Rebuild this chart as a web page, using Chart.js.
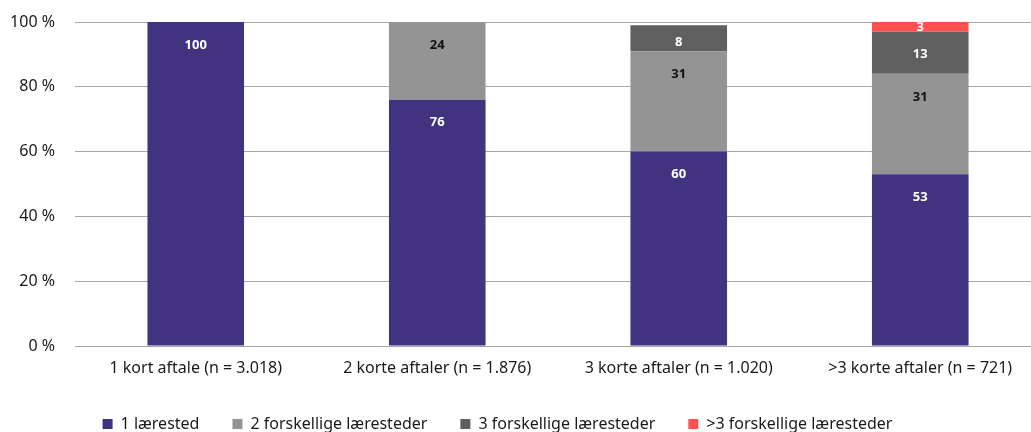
<!DOCTYPE html>
<html>
<head>
<meta charset="utf-8">
<script src="https://cdn.jsdelivr.net/npm/chart.js@4/dist/chart.umd.min.js"></script>
<style>
  html, body { margin: 0; padding: 0; background: #fff; overflow: hidden; }
  #wrap { position: relative; width: 1041px; height: 432px; }
</style>
</head>
<body>
<div id="wrap"><canvas id="c"></canvas></div>
<script>
const categories = ['1 kort aftale (n = 3.018)', '2 korte aftaler (n = 1.876)', '3 korte aftaler (n = 1.020)', '>3 korte aftaler (n = 721)'];
const seriesNames = ['1 lærested', '2 forskellige læresteder', '3 forskellige læresteder', '>3 forskellige læresteder'];
const oneInstitution = [100, 76, 60, 53];
const twoInstitutions = [null, 24, 31, 31];
const threeInstitutions = [null, null, 8, 13];
const moreInstitutions = [null, null, null, 3];
const yTicks = [0, 20, 40, 60, 80, 100];

const barColors = ['#41337F', '#949494', '#5F5F5F', '#FF5050'];
const labelColors = ['#ffffff', '#111111', '#ffffff', '#ffffff'];
const FONT = '"Noto Sans"';

const labelPlugin = {
  id: 'barLabels',
  afterDatasetsDraw(chart) {
    const ctx = chart.ctx;
    ctx.save();
    ctx.font = 'bold 13px ' + FONT;
    ctx.textAlign = 'center';
    ctx.textBaseline = 'middle';
    chart.data.datasets.forEach((ds, i) => {
      const meta = chart.getDatasetMeta(i);
      meta.data.forEach((bar, j) => {
        const v = ds.data[j];
        if (v == null) return;
        const p = bar.getProps(['x', 'y', 'base'], true);
        const top = Math.min(p.y, p.base), bottom = Math.max(p.y, p.base);
        const center = (top + bottom) / 2;
        const ly = Math.min(top + 23, Math.max(center, bottom - 9));
        ctx.fillStyle = labelColors[i];
        ctx.fillText(String(v), p.x, ly);
      });
    });
    ctx.restore();
  }
};

const LEGEND_H = 49;
const legendTweak = {
  id: 'legendTweak',
  afterInit(chart) {
    const lg = chart.legend;
    if (!lg) return;
    const origFit = lg.fit.bind(lg);
    lg.fit = function () { origFit(); this.height = LEGEND_H; };
  },
  afterLayout(chart) {
    const lg = chart.legend;
    if (lg) { lg.left -= 23; lg.right -= 23; }
  }
};

new Chart(document.getElementById('c'), {
  type: 'bar',
  data: {
    labels: categories,
    datasets: [
      { label: seriesNames[0], data: oneInstitution, backgroundColor: barColors[0] },
      { label: seriesNames[1], data: twoInstitutions, backgroundColor: barColors[1] },
      { label: seriesNames[2], data: threeInstitutions, backgroundColor: barColors[2] },
      { label: seriesNames[3], data: moreInstitutions, backgroundColor: barColors[3] }
    ]
  },
  options: {
    responsive: true,
    maintainAspectRatio: false,
    animation: false,
    datasets: { bar: { categoryPercentage: 1.0, barPercentage: 0.4 } },
    layout: { padding: { top: 22, left: 0, right: 0, bottom: 0 } },
    plugins: {
      legend: {
        position: 'bottom',
        labels: {
          boxWidth: 10, boxHeight: 10, padding: 33,
          color: '#1a1a1a',
          font: { family: FONT, size: 16 }
        }
      },
      tooltip: { enabled: false }
    },
    scales: {
      x: {
        stacked: true,
        afterFit(scale) { scale.height = 37; },
        grid: { display: false },
        border: { display: false },
        ticks: { color: '#1a1a1a', font: { family: FONT, size: 16 }, padding: 5, maxRotation: 0 }
      },
      y: {
        stacked: true,
        min: 0, max: 100,
        afterBuildTicks(scale) { scale.ticks = yTicks.map(v => ({ value: v })); },
        afterFit(scale) { scale.width = 75; scale.paddingTop = 0; scale.paddingBottom = 0; },
        grid: { color: '#a6a6a6', lineWidth: 1, drawTicks: false },
        border: { display: false },
        ticks: { color: '#1a1a1a', font: { family: FONT, size: 16 }, padding: 20, callback: v => v + ' %' }
      }
    }
  },
  plugins: [labelPlugin, legendTweak]
});
</script>
</body>
</html>
